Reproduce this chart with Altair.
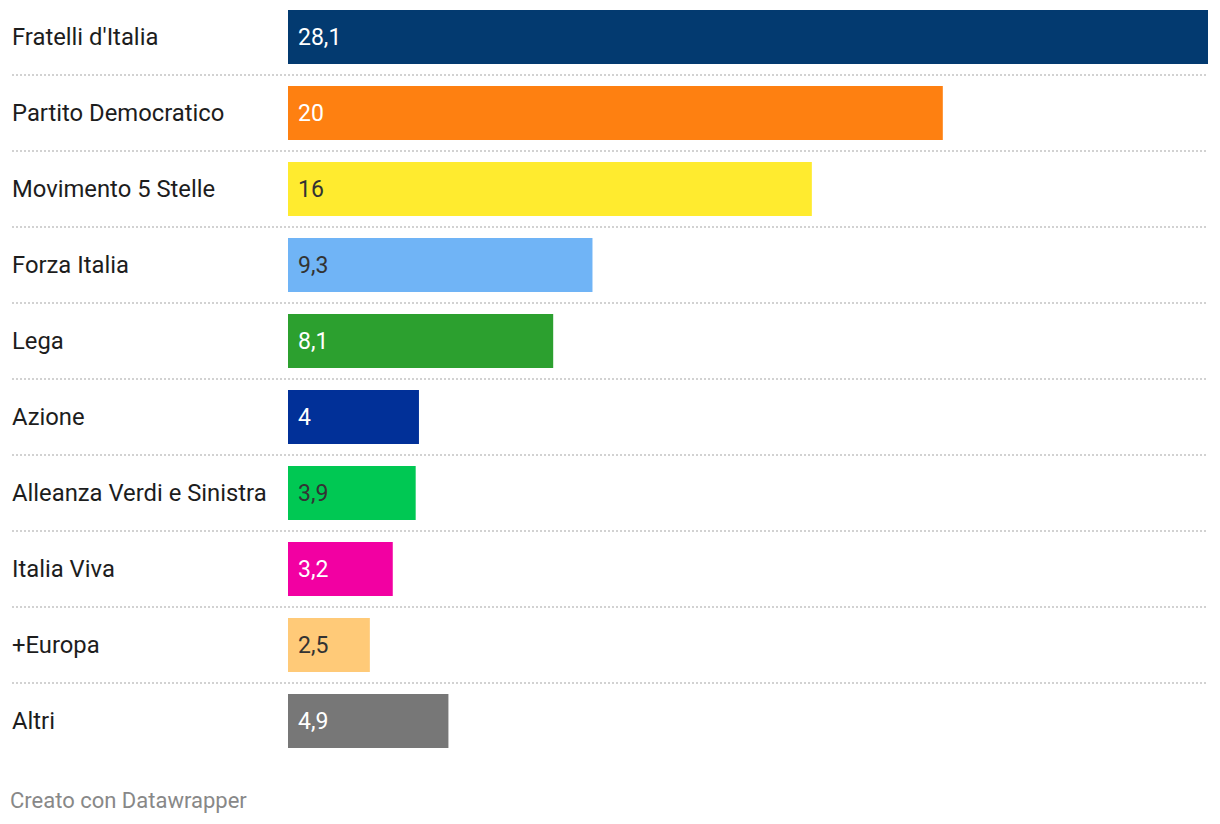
import altair as alt
import pandas as pd

parties = ["Fratelli d'Italia", "Partito Democratico", "Movimento 5 Stelle", "Forza Italia",
           "Lega", "Azione", "Alleanza Verdi e Sinistra", "Italia Viva", "+Europa", "Altri"]
values = [28.1, 20, 16, 9.3, 8.1, 4, 3.9, 3.2, 2.5, 4.9]
labels = ["28,1", "20", "16", "9,3", "8,1", "4", "3,9", "3,2", "2,5", "4,9"]
colors = ["#033a70", "#fe8011", "#ffeb2f", "#70b4f6", "#2ca02f", "#013098",
          "#00c853", "#f200a2", "#ffca78", "#777777"]
text_colors = ["#ffffff", "#ffffff", "#333333", "#333333", "#ffffff", "#ffffff",
               "#333333", "#ffffff", "#333333", "#ffffff"]
footer = "Creato con Datawrapper"

df = pd.DataFrame({
    "party": parties, "value": values, "label": labels,
    "color": colors, "tcolor": text_colors,
})
df["sep"] = [True] * (len(parties) - 1) + [False]

FONT = "Roboto"
W, H = 920, 738

y = alt.Y("party:N", sort=parties, axis=None,
          scale=alt.Scale(paddingInner=22 / 76, paddingOuter=0))
x = alt.X("value:Q", axis=None, scale=alt.Scale(domain=[0, 28.1], nice=False, zero=True))

base = alt.Chart(df)

seps = base.transform_filter("datum.sep").mark_rule(
    color="#d2d2d2", strokeWidth=2, strokeDash=[2, 2], yOffset=38
).encode(y=y, x=alt.value(-276), x2=alt.value(W))

bars = base.mark_bar().encode(
    y=y, x=x, color=alt.Color("color:N", scale=None)
)

vals = base.mark_text(align="left", baseline="middle", font=FONT, fontSize=23, dy=1).encode(
    y=y, x=alt.value(10), text="label:N", color=alt.Color("tcolor:N", scale=None)
)

names = base.mark_text(align="left", baseline="middle", font=FONT, fontSize=23.8,
                       color="#1d1d1d", dy=1).encode(
    y=y, x=alt.value(-276), text="party:N"
)

foot = alt.Chart(pd.DataFrame({"t": [footer]})).mark_text(
    align="left", baseline="middle", font=FONT, fontSize=22, color="#888888"
).encode(x=alt.value(-278), y=alt.value(791), text="t:N")

chart = alt.layer(seps, bars, vals, names, foot).properties(
    width=W, height=H,
    background="#ffffff",
    autosize=alt.AutoSizeParams(type="none"),
    padding={"left": 280, "top": 2, "right": 4, "bottom": 68},
).configure_view(strokeWidth=0, stroke=None)

chart.save("out.html", embed_options={"renderer": "svg", "actions": False})
